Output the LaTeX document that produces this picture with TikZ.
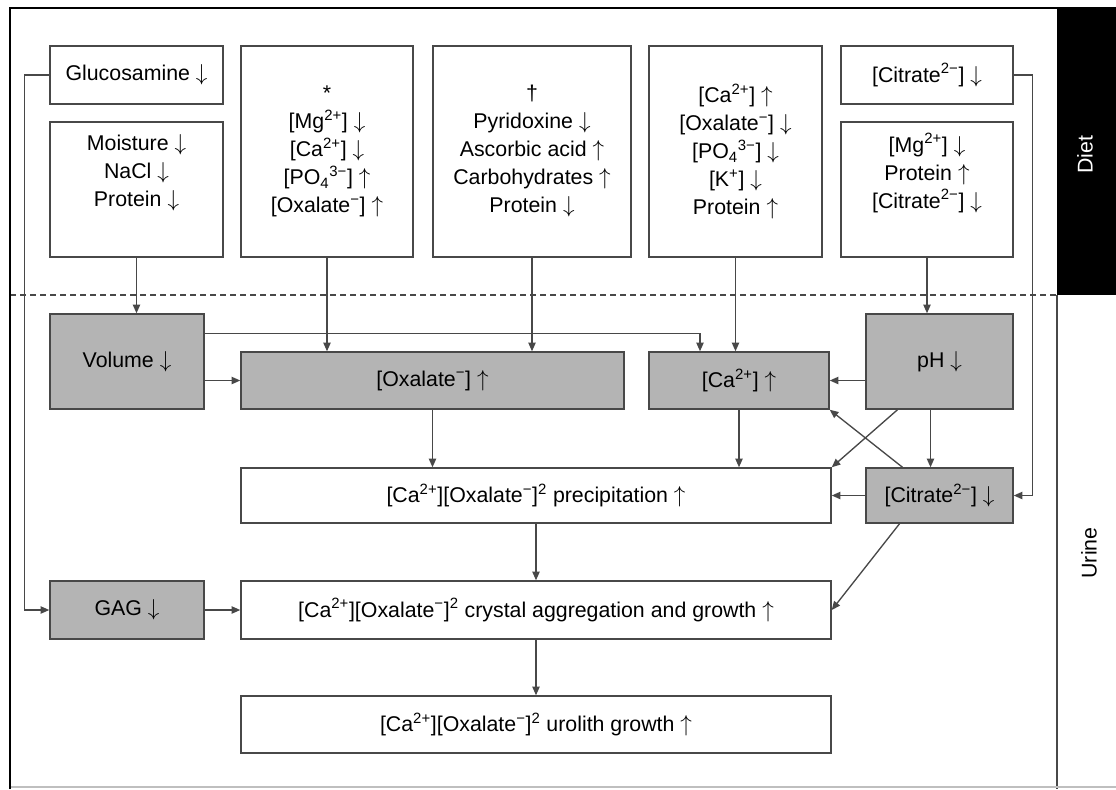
\documentclass[tikz,border=0pt]{standalone}
\usepackage{fontspec}
\setmainfont{Liberation Sans}
\usepackage{xcolor}
\usetikzlibrary{arrows.meta,calc}

\definecolor{boxgray}{RGB}{180,180,180}
\definecolor{edge}{RGB}{72,72,72}
\newcommand{\arrdn}{$\downarrow$}
\newcommand{\arrup}{$\uparrow$}

\begin{document}
\begin{tikzpicture}[
        x=0.75pt, y=-0.75pt,
        font=\fontsize{16}{21}\selectfont,
        box/.style={draw=edge, fill=white, line width=1.1pt, align=center, inner sep=2pt},
        gbox/.style={box, fill=boxgray},
        sz/.style 2 args={minimum width={(#1)*0.75pt}, minimum height={(#2)*0.75pt}},
        arr/.style={-{Triangle[length=6.5pt,width=5.5pt]}, line width=1pt, draw=edge}
    ]
        \useasboundingbox (0,0) rectangle (1116,789);
        % frame and the two zones
        \fill[black] (1057,8) rectangle (1116,295);
        \draw[edge, dashed, dash pattern=on 4.5pt off 3pt, line width=1.1pt] (10,295) -- (1057,295);
        \draw[edge, line width=0.9pt] (1057,295) -- (1057,789);
        \draw[black!25, line width=0.8pt] (10,787) -- (1116,787);
        \draw[line width=2.2pt] (10,789) -- (10,8) -- (1116,8);
        \node[rotate=90, text=white] (diet) at (1085,155) {Diet};
        \node[rotate=90] (urine) at (1089,553) {Urine};

        % diet
        \node[box, sz={173}{58}] (gluc) at (136.5,75) {Glucosamine \arrdn};
        \node[box, sz={173}{135}] (moist) at (136.5,189.5) {Moisture \arrdn\\NaCl \arrdn\\Protein \arrdn\\[7pt]\mbox{}};
        \node[box, sz={172}{211}] (star) at (327,151.5) {*\\{}[Mg\textsuperscript{2+}] \arrdn\\{}[Ca\textsuperscript{2+}] \arrdn\\{}[PO\textsubscript{4}\textsuperscript{3−}] \arrup\\{}[Oxalate\textsuperscript{−}] \arrup};
        \node[box, sz={198}{211}] (dag) at (532,151.5) {†\\Pyridoxine \arrdn\\Ascorbic acid \arrup\\Carbohydrates \arrup\\Protein \arrdn};
        \node[box, sz={173}{211}] (cadiet) at (735.5,151.5) {[Ca\textsuperscript{2+}] \arrup\\{}[Oxalate\textsuperscript{−}] \arrdn\\{}[PO\textsubscript{4}\textsuperscript{3−}] \arrdn\\{}[K\textsuperscript{+}] \arrdn\\Protein \arrup};
        \node[box, sz={172}{58}] (citdiet) at (927,75) {[Citrate\textsuperscript{2−}] \arrdn};
        \node[box, sz={172}{135}] (mgdiet) at (927,189.5) {[Mg\textsuperscript{2+}] \arrdn\\Protein \arrup\\{}[Citrate\textsuperscript{2−}] \arrdn\\[7pt]\mbox{}};

        % urine
        \node[gbox, sz={154}{95}] (vol) at (127,361.5) {Volume \arrdn};
        \node[gbox, sz={383}{57}] (oxa) at (432.5,380.5) {[Oxalate\textsuperscript{−}] \arrup};
        \node[gbox, sz={180}{57}] (caur) at (739,380.5) {[Ca\textsuperscript{2+}] \arrup};
        \node[gbox, sz={147}{95}] (ph) at (939.5,361.5) {pH \arrdn};
        \node[box, sz={590}{55}] (prec) at (536,495.5) {[Ca\textsuperscript{2+}][Oxalate\textsuperscript{−}]\textsuperscript{2} precipitation \arrup};
        \node[gbox, sz={147}{55}] (citur) at (939.5,495.5) {[Citrate\textsuperscript{2−}] \arrdn};
        \node[gbox, sz={154}{58}] (gag) at (127,610) {GAG \arrdn};
        \node[box, sz={590}{58}] (cryst) at (536,610) {[Ca\textsuperscript{2+}][Oxalate\textsuperscript{−}]\textsuperscript{2} crystal aggregation and growth \arrup};
        \node[box, sz={590}{57}] (urol) at (536,724.5) {[Ca\textsuperscript{2+}][Oxalate\textsuperscript{−}]\textsuperscript{2} urolith growth \arrup};

        \coordinate (phd) at ($(ph.south)+(-9,0)$);

        % diet into urine
        \draw[arr] (moist.south) -- (moist.south |- vol.north);
        \draw[arr] (star.south) -- (star.south |- oxa.north);
        \draw[arr] (dag.south) -- (dag.south |- oxa.north);
        \draw[arr] (cadiet.south) -- (cadiet.south |- caur.north);
        \draw[arr] (mgdiet.south) -- (mgdiet.south |- ph.north);
        \draw[arr] (gluc.west) -- ++(-25,0) |- (gag.west);
        \draw[arr] (citdiet.east) -- ++(19,0) |- (citur.east);
        % within urine
        \draw[arr] ($(vol.east)+(0,-28)$) -| ($(caur.north)+(-39,0)$);
        \draw[arr] (vol.east |- oxa.west) -- (oxa.west);
        \draw[arr] (ph.west |- caur.east) -- (caur.east);
        \draw[arr] (oxa.south) -- (oxa.south |- prec.north);
        \draw[arr] (caur.south) -- (caur.south |- prec.north);
        \draw[arr] (phd) -- (phd |- citur.north);
        \draw[arr] ($(ph.south)+(-42,0)$) -- (prec.north east);
        \draw[arr] ($(citur.north)+(-37,0)$) -- (caur.south east);
        \draw[arr] (citur.west) -- (prec.east);
        \draw[arr] ($(citur.south)+(-40,0)$) -- (cryst.east);
        \draw[arr] (prec.south) -- (cryst.north);
        \draw[arr] (gag.east) -- (cryst.west);
        \draw[arr] (cryst.south) -- (urol.north);
    \end{tikzpicture}
\end{document}
